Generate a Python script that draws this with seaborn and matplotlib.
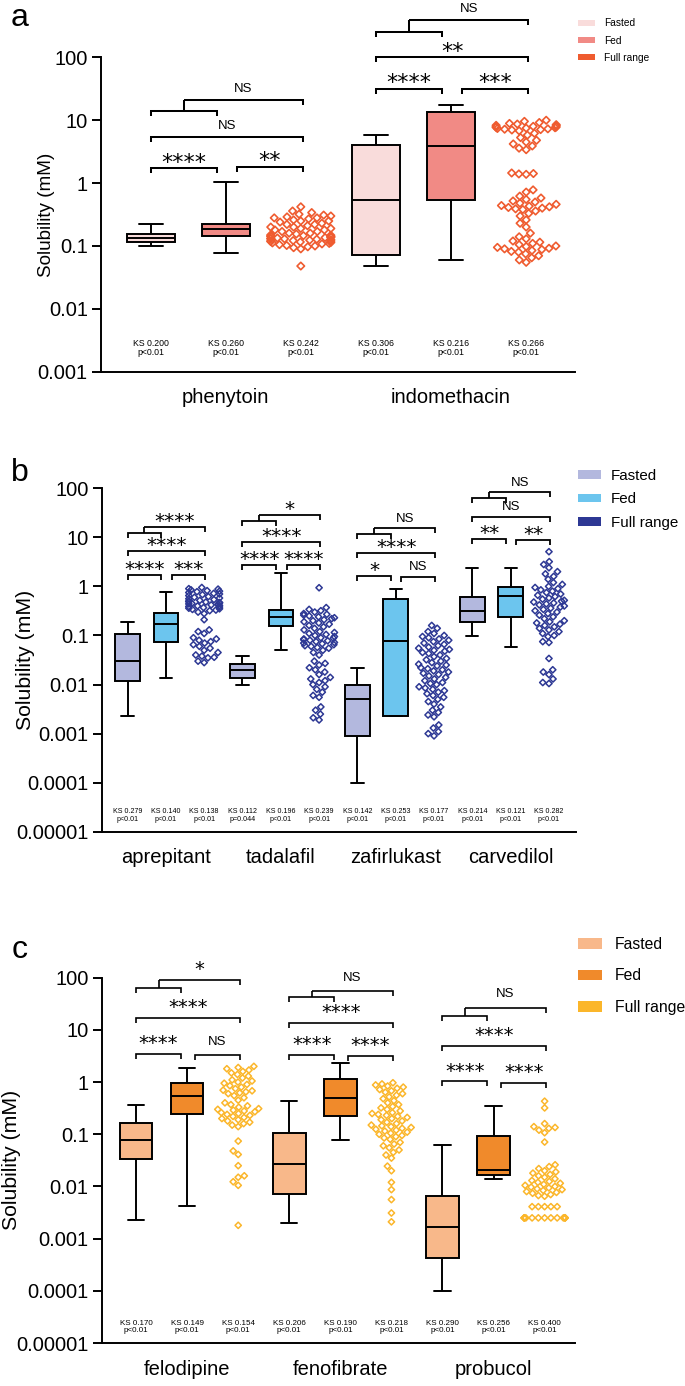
"""Solubility of nine drugs: fasted / fed box plots vs full-range swarm, three stacked panels."""

import matplotlib
matplotlib.use("Agg")
import matplotlib.pyplot as plt
import pandas as pd
import seaborn as sns
from matplotlib.patches import Patch
from matplotlib.ticker import NullLocator

CONDITIONS = ["Fasted", "Fed", "Full range"]
FONT = "Liberation Sans"

# ──────────────────────────────────────────────
# panel a
# ──────────────────────────────────────────────
DRUGS_A = ["phenytoin", "indomethacin"]
# box data: min, q1, median, q3, max
FASTED_A = [
    [0.100, 0.116, 0.135, 0.153, 0.22],
    [0.048, 0.072, 0.54, 4.1, 5.8],
]
FED_A = [
    [0.076, 0.144, 0.186, 0.223, 1.04],
    [0.06, 0.54, 3.9, 13.3, 17.5],
]
FULL_A = [
    [0.42, 0.36, 0.34, 0.32, 0.31, 0.30, 0.29, 0.28, 0.28, 0.27, 0.26, 0.25, 0.25,
     0.24, 0.23, 0.22, 0.22, 0.21, 0.20, 0.20, 0.19, 0.19, 0.18, 0.18, 0.17, 0.17,
     0.16, 0.16, 0.155, 0.15, 0.148, 0.146, 0.144, 0.142, 0.14, 0.14, 0.138, 0.136,
     0.134, 0.132, 0.13, 0.13, 0.128, 0.126, 0.124, 0.122, 0.12, 0.12, 0.118, 0.116,
     0.114, 0.112, 0.11, 0.108, 0.105, 0.102, 0.10, 0.097, 0.094, 0.09, 0.048],
    [10.0, 9.6, 9.2, 8.9, 8.7, 8.5, 8.3, 8.2, 8.0, 7.9, 7.8, 7.7, 7.6, 7.5, 7.4,
     7.3, 7.2, 7.1, 7.0, 6.8, 6.2, 5.8, 5.3, 4.8, 4.5, 4.2, 3.9, 3.6, 3.4,
     1.45, 1.42, 1.40, 1.38,
     0.78, 0.72, 0.62, 0.58, 0.55, 0.52, 0.50, 0.48, 0.46, 0.44, 0.43, 0.42, 0.41,
     0.40, 0.39, 0.38, 0.36, 0.33, 0.30, 0.26, 0.23, 0.20,
     0.16, 0.14, 0.13, 0.12, 0.115, 0.11, 0.105, 0.10, 0.098, 0.095, 0.092, 0.09,
     0.088, 0.085, 0.082, 0.08, 0.075, 0.07, 0.065, 0.06, 0.055],
]
KS_A = ["KS 0.200\np<0.01", "KS 0.260\np<0.01", "KS 0.242\np<0.01",
        "KS 0.306\np<0.01", "KS 0.216\np<0.01", "KS 0.266\np<0.01"]
# fasted-fed, fed-full, fasted-full, (fasted+fed)-full
SIG_A = [["****", "**", "NS", "NS"], ["****", "***", "**", "NS"]]
COLORS_A = ["#F9DCDB", "#F18A85", "#EF5B2F"]
YTICKS_A = [0.001, 0.01, 0.1, 1, 10, 100]
YTICKLABELS_A = ["0.001", "0.01", "0.1", "1", "10", "100"]

# ──────────────────────────────────────────────
# panel b
# ──────────────────────────────────────────────
DRUGS_B = ["aprepitant", "tadalafil", "zafirlukast", "carvedilol"]
FASTED_B = [
    [0.0023, 0.0118, 0.030, 0.107, 0.19],
    [0.0098, 0.0136, 0.0197, 0.026, 0.039],
    [0.0001, 0.00089, 0.005, 0.0098, 0.022],
    [0.099, 0.19, 0.315, 0.60, 2.4],
]
FED_B = [
    [0.0136, 0.072, 0.174, 0.29, 0.76],
    [0.05, 0.156, 0.24, 0.336, 1.9],
    [0.0023, 0.0023, 0.077, 0.545, 0.885],
    [0.059, 0.24, 0.64, 0.99, 2.33],
]
FULL_B = [
    [0.95, 0.90, 0.88, 0.85, 0.82, 0.80, 0.78, 0.75, 0.72, 0.70, 0.68, 0.65, 0.62,
     0.60, 0.58, 0.56, 0.54, 0.52, 0.50, 0.49, 0.48, 0.47, 0.46, 0.45, 0.44, 0.43,
     0.42, 0.41, 0.40, 0.39, 0.38, 0.37, 0.36, 0.35, 0.34, 0.33, 0.32, 0.30, 0.28,
     0.21, 0.13, 0.12, 0.11, 0.09, 0.085, 0.08, 0.075, 0.07, 0.065, 0.06, 0.055,
     0.05, 0.045, 0.04, 0.038, 0.036, 0.035, 0.03, 0.028],
    [0.94, 0.37, 0.34, 0.32, 0.30, 0.28, 0.27, 0.26, 0.25, 0.24, 0.23, 0.22, 0.21,
     0.20, 0.19, 0.18, 0.17, 0.16, 0.15, 0.14, 0.13, 0.12, 0.115, 0.11, 0.105, 0.10,
     0.095, 0.09, 0.088, 0.085, 0.082, 0.08, 0.078, 0.075, 0.072, 0.07, 0.068, 0.065,
     0.062, 0.06, 0.057, 0.055, 0.05, 0.045, 0.04, 0.03, 0.027, 0.025, 0.022, 0.02,
     0.018, 0.016, 0.014, 0.013, 0.012, 0.011, 0.01, 0.009, 0.008, 0.007, 0.006,
     0.0055, 0.0035, 0.003, 0.0025, 0.0021, 0.0019],
    [0.16, 0.14, 0.12, 0.11, 0.10, 0.095, 0.09, 0.085, 0.08, 0.075, 0.07, 0.066,
     0.062, 0.058, 0.055, 0.052, 0.05, 0.048, 0.045, 0.043, 0.04, 0.037, 0.034,
     0.032, 0.03, 0.028, 0.026, 0.025, 0.024, 0.022, 0.021, 0.02, 0.019, 0.018,
     0.017, 0.016, 0.015, 0.014, 0.013, 0.012, 0.011, 0.0105, 0.01, 0.009, 0.0085,
     0.008, 0.0075, 0.007, 0.0065, 0.006, 0.0055, 0.005, 0.0045, 0.004, 0.0035,
     0.003, 0.0027, 0.0024, 0.0022, 0.0015, 0.0013, 0.0011, 0.001, 0.0009],
    [5.1, 3.2, 2.8, 2.4, 2.0, 1.8, 1.6, 1.4, 1.2, 1.1, 1.0, 0.95, 0.90, 0.85, 0.80,
     0.75, 0.70, 0.66, 0.62, 0.58, 0.55, 0.52, 0.50, 0.48, 0.46, 0.44, 0.42, 0.40,
     0.38, 0.36, 0.34, 0.32, 0.30, 0.28, 0.26, 0.24, 0.22, 0.20, 0.19, 0.18, 0.17,
     0.16, 0.15, 0.14, 0.13, 0.12, 0.11, 0.10, 0.095, 0.075, 0.072, 0.034, 0.02,
     0.018, 0.016, 0.013, 0.011, 0.0105],
]
KS_B = ["KS 0.279\np<0.01", "KS 0.140\np<0.01", "KS 0.138\np<0.01",
        "KS 0.112\np=0.044", "KS 0.196\np<0.01", "KS 0.239\np<0.01",
        "KS 0.142\np<0.01", "KS 0.253\np<0.01", "KS 0.177\np<0.01",
        "KS 0.214\np<0.01", "KS 0.121\np<0.01", "KS 0.282\np<0.01"]
SIG_B = [["****", "***", "****", "****"], ["****", "****", "****", "*"],
         ["*", "NS", "****", "NS"], ["**", "**", "NS", "NS"]]
COLORS_B = ["#B3B8DE", "#6CC5EE", "#2D3894"]
YTICKS_B = [1e-5, 1e-4, 0.001, 0.01, 0.1, 1, 10, 100]
YTICKLABELS_B = ["0.00001", "0.0001", "0.001", "0.01", "0.1", "1", "10", "100"]

# ──────────────────────────────────────────────
# panel c
# ──────────────────────────────────────────────
DRUGS_C = ["felodipine", "fenofibrate", "probucol"]
FASTED_C = [
    [0.0023, 0.033, 0.079, 0.162, 0.364],
    [0.002, 0.0072, 0.0275, 0.106, 0.44],
    [0.0001, 0.00043, 0.00167, 0.0067, 0.0635],
]
FED_C = [
    [0.0042, 0.24, 0.53, 0.97, 1.82],
    [0.077, 0.22, 0.49, 1.17, 2.27],
    [0.0142, 0.0165, 0.021, 0.094, 0.343],
]
FULL_C = [
    [2.0, 1.9, 1.8, 1.7, 1.6, 1.5, 1.4, 1.3, 1.2, 1.1, 1.05, 1.0, 0.95, 0.90, 0.85,
     0.80, 0.75, 0.70, 0.68, 0.65, 0.62, 0.60, 0.55, 0.50, 0.45, 0.40, 0.37, 0.35,
     0.33, 0.31, 0.30, 0.29, 0.28, 0.27, 0.26, 0.25, 0.24, 0.23, 0.22, 0.21, 0.20,
     0.19, 0.18, 0.17, 0.16, 0.15, 0.14, 0.074, 0.048, 0.041, 0.025, 0.016, 0.015,
     0.0123, 0.0105, 0.0018],
    [0.97, 0.92, 0.88, 0.84, 0.80, 0.76, 0.72, 0.68, 0.64, 0.60, 0.56, 0.52, 0.48,
     0.44, 0.40, 0.37, 0.34, 0.32, 0.30, 0.28, 0.26, 0.25, 0.24, 0.23, 0.22, 0.21,
     0.20, 0.19, 0.18, 0.17, 0.16, 0.15, 0.145, 0.14, 0.135, 0.13, 0.125, 0.12,
     0.115, 0.11, 0.105, 0.10, 0.095, 0.09, 0.085, 0.08, 0.07, 0.065, 0.06, 0.055,
     0.05, 0.045, 0.04, 0.035, 0.0245, 0.02, 0.012, 0.0087, 0.0056, 0.0031, 0.0021],
    [0.43, 0.32, 0.16, 0.14, 0.135, 0.13, 0.12, 0.107, 0.071, 0.026, 0.024, 0.022,
     0.02, 0.019, 0.018, 0.017, 0.016, 0.015, 0.014, 0.013, 0.0125, 0.012, 0.0115,
     0.011, 0.0105, 0.01, 0.0097, 0.0094, 0.009, 0.0087, 0.0084, 0.008, 0.0077,
     0.0074, 0.007, 0.0067, 0.0065, 0.0041, 0.0041, 0.0041, 0.0041, 0.0041,
     0.0025, 0.0025, 0.0025, 0.0025, 0.0025, 0.0025, 0.0025, 0.0025, 0.0025,
     0.0025, 0.0025, 0.0025, 0.0025],
]
KS_C = ["KS 0.170\np<0.01", "KS 0.149\np<0.01", "KS 0.154\np<0.01",
        "KS 0.206\np<0.01", "KS 0.190\np<0.01", "KS 0.218\np<0.01",
        "KS 0.290\np<0.01", "KS 0.256\np<0.01", "KS 0.400\np<0.01"]
SIG_C = [["****", "NS", "****", "*"], ["****", "****", "****", "NS"],
         ["****", "****", "****", "NS"]]
COLORS_C = ["#F8B88A", "#F08A2B", "#FBB62A"]
YTICKS_C = YTICKS_B
YTICKLABELS_C = YTICKLABELS_B

# ──────────────────────────────────────────────
# layout (figure px 685 x 1386); x positions are in "slot" units, one slot per box
# ──────────────────────────────────────────────
FIG_W, FIG_H = 685, 1386
# bracket heights in axes fraction: fasted-fed, fed-full, fasted-full, nest low, nest high
LAYOUT = {
    "a": dict(rect=[0.1474, 0.7318, 0.692, 0.2268], ylim=(1e-3, 100), xlim=(-0.66, 5.65),
              letter_xy=(20, 18), ylabel_x=-0.097, ylabel_fs=13.6,
              brackets=[[0.647, 0.652, 0.748, 0.829, 0.866],
                        [0.901, 0.901, 1.000, 1.080, 1.119]],
              br_lw=1.45, star_fs=16, star_off=12, ns_fs=9.5, ns_off=12.5,
              ms=3.8, mlw=1.2, ks_y=0.075, ks_fs=6.3,
              leg=dict(y=18.5, fs=7.3, hl=1.68, hh=0.6, tp=0.9, ls=0.7)),
    "b": dict(rect=[0.1487, 0.3999, 0.6924, 0.2478], ylim=(1e-5, 100), xlim=(-0.67, 11.71),
              letter_xy=(20, 473), ylabel_x=-0.141, ylabel_fs=15.3,
              brackets=[[0.748, 0.748, 0.816, 0.869, 0.888],
                        [0.777, 0.777, 0.845, 0.905, 0.922],
                        [0.746, 0.743, 0.811, 0.866, 0.883],
                        [0.852, 0.850, 0.916, 0.971, 0.988]],
              br_lw=1.3, star_fs=14.5, star_off=11.5, ns_fs=9.5, ns_off=11.5,
              ms=3.2, mlw=1.1, ks_y=0.047, ks_fs=5.1,
              leg=dict(y=469, fs=10.9, hl=1.52, hh=0.53, tp=0.66, ls=0.62)),
    "c": dict(rect=[0.1487, 0.0310, 0.6911, 0.2636], ylim=(1e-5, 100), xlim=(-0.67, 8.6),
              letter_xy=(20, 950), ylabel_x=-0.170, ylabel_fs=15.3,
              brackets=[[0.792, 0.789, 0.889, 0.973, 0.995],
                        [0.789, 0.786, 0.875, 0.946, 0.964],
                        [0.716, 0.713, 0.813, 0.895, 0.918]],
              br_lw=1.2, star_fs=14, star_off=16, ns_fs=9.5, ns_off=15,
              ms=3.2, mlw=1.1, ks_y=0.044, ks_fs=5.8,
              leg=dict(y=937, fs=11.3, hl=1.53, hh=0.64, tp=0.83, ls=1.05)),
}
LEGEND_X = 578


def long_frame(drugs, groups):
    rows = []
    for cond, per_drug in groups.items():
        for drug, values in zip(drugs, per_drug):
            rows += [(f"{drug}|{cond}", cond, v) for v in values]
    return pd.DataFrame(rows, columns=["slot", "condition", "value"])


def bracket(ax, xs, ys, lw):
    ax.plot(xs, ys, color="black", lw=lw, transform=ax.get_xaxis_transform(),
            clip_on=False, solid_capstyle="butt", solid_joinstyle="miter")


def sig_label(ax, x, y, text, lay):
    if text == "NS":
        fam, fs, k, off = FONT, lay["ns_fs"], 0.36, lay["ns_off"]
    else:
        fam, fs, k, off = "DejaVu Sans", lay["star_fs"], 0.57, lay["star_off"]
    ax.annotate(text, xy=(x, y), xycoords=ax.get_xaxis_transform(),
                xytext=(0, off * 0.72 - k * fs), textcoords="offset points",
                ha="center", va="baseline", fontsize=fs, family=fam,
                annotation_clip=False)


def draw_panel(fig, key, drugs, fasted, fed, full, ks, sig, colors, yticks, yticklabels):
    lay = LAYOUT[key]
    ax = fig.add_axes(lay["rect"])
    pal = dict(zip(CONDITIONS, colors))
    slots = [f"{d}|{c}" for d in drugs for c in CONDITIONS]

    box_df = long_frame(drugs, {"Fasted": fasted, "Fed": fed})
    full_df = long_frame(drugs, {"Full range": full})

    sns.boxplot(data=box_df, x="slot", y="value", hue="condition", order=slots,
                hue_order=CONDITIONS, palette=pal, saturation=1, dodge=False, width=0.64,
                whis=(0, 100), log_scale=True, linecolor="black", linewidth=1.4,
                showfliers=False, legend=False, ax=ax)
    ax.set_ylim(*lay["ylim"])
    n0 = len(ax.collections)
    sns.swarmplot(data=full_df, x="slot", y="value", hue="condition", order=slots,
                  hue_order=CONDITIONS, palette=pal, dodge=False, marker="D",
                  size=lay["ms"], linewidth=lay["mlw"], legend=False, warn_thresh=1,
                  log_scale=True, ax=ax)
    for coll in ax.collections[n0:]:
        fc = coll.get_facecolors()
        coll.set_edgecolors(fc)
        coll.set_facecolors("none")

    n = len(drugs)
    ax.set_xlim(*lay["xlim"])
    ax.set_ylim(*lay["ylim"])
    ax.set_xticks([3 * g + 1 for g in range(n)], labels=drugs)
    ax.set_yticks(yticks, labels=yticklabels)
    ax.yaxis.set_minor_locator(NullLocator())
    ax.tick_params(axis="y", labelsize=14.5, width=1.4, length=6.5, pad=3)
    ax.tick_params(axis="x", labelsize=14.5, length=0, pad=12)
    ax.set_xlabel("")
    ax.set_ylabel("Solubility (mM)", fontsize=lay["ylabel_fs"])
    ax.yaxis.set_label_coords(lay["ylabel_x"], 0.5)
    for side in ["top", "right"]:
        ax.spines[side].set_visible(False)
    for side in ["left", "bottom"]:
        ax.spines[side].set_linewidth(1.4)

    # significance brackets
    ax_h_px = lay["rect"][3] * FIG_H
    tick = 5 / ax_h_px
    lw = lay["br_lw"]
    for g in range(n):
        s0, s1, s2 = 3 * g, 3 * g + 1, 3 * g + 2
        y1, y2, y3, ylo, yhi = lay["brackets"][g]
        lab1, lab2, lab3, lab4 = sig[g]
        spans = [(s0, s1 - 0.12, y1, lab1), (s1 + 0.15, s2 + 0.03, y2, lab2),
                 (s0, s2 + 0.03, y3, lab3)]
        for x0, x1, y, lab in spans:
            bracket(ax, [x0, x0, x1, x1], [y - tick, y, y, y - tick], lw)
            sig_label(ax, (x0 + x1) / 2, y, lab, lay)
        lo0, lo1 = s0, s1 - 0.12
        mid = (lo0 + lo1) / 2
        hi1 = s2 + 0.03
        bracket(ax, [lo0, lo0, lo1, lo1], [ylo - tick, ylo, ylo, ylo - tick], lw)
        bracket(ax, [mid, mid], [ylo, yhi], lw)
        bracket(ax, [mid, hi1, hi1], [yhi, yhi, yhi - tick], lw)
        sig_label(ax, (mid + hi1) / 2, yhi, lab4, lay)

    # KS annotations under each box / swarm
    for i, txt in enumerate(ks):
        ax.text(i, lay["ks_y"], txt, transform=ax.get_xaxis_transform(),
                ha="center", va="center", fontsize=lay["ks_fs"], linespacing=1.1)

    # legend
    lg = lay["leg"]
    handles = [Patch(facecolor=c, edgecolor="none") for c in colors]
    fig.legend(handles, CONDITIONS, loc="upper left",
               bbox_to_anchor=(LEGEND_X / FIG_W, 1 - lg["y"] / FIG_H),
               bbox_transform=fig.transFigure, frameon=False,
               prop={"size": lg["fs"], "family": FONT},
               handlelength=lg["hl"], handleheight=lg["hh"], handletextpad=lg["tp"],
               labelspacing=lg["ls"], borderpad=0, borderaxespad=0)

    lx, ly = lay["letter_xy"]
    fig.text(lx / FIG_W, 1 - ly / FIG_H, key, ha="center", va="center",
             fontsize=23, family=FONT)
    return ax


sns.set_theme(style="ticks")
plt.rcParams["font.family"] = [FONT, "DejaVu Sans"]
plt.rcParams["text.color"] = "black"
plt.rcParams["axes.labelcolor"] = "black"
plt.rcParams["xtick.color"] = "black"
plt.rcParams["ytick.color"] = "black"
plt.rcParams["axes.edgecolor"] = "black"

fig = plt.figure(figsize=(FIG_W / 100, FIG_H / 100), dpi=100)
draw_panel(fig, "a", DRUGS_A, FASTED_A, FED_A, FULL_A, KS_A, SIG_A, COLORS_A,
           YTICKS_A, YTICKLABELS_A)
draw_panel(fig, "b", DRUGS_B, FASTED_B, FED_B, FULL_B, KS_B, SIG_B, COLORS_B,
           YTICKS_B, YTICKLABELS_B)
draw_panel(fig, "c", DRUGS_C, FASTED_C, FED_C, FULL_C, KS_C, SIG_C, COLORS_C,
           YTICKS_C, YTICKLABELS_C)

fig.savefig("out.png", dpi=100)
